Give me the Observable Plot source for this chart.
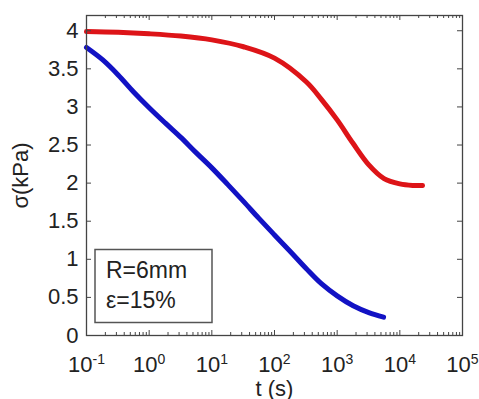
<!DOCTYPE html>
<html>
<head>
<meta charset="utf-8">
<script src="https://cdn.jsdelivr.net/npm/d3@7"></script>
<script src="https://cdn.jsdelivr.net/npm/@observablehq/plot@0.6"></script>
<style>
  html, body { margin: 0; padding: 0; background: #fff; }
</style>
</head>
<body>
<div id="chart"></div>
<script>
// Red curve (upper)
const tRed = [0.1, 0.32, 1, 3.2, 10, 32, 100, 320, 560, 1000, 1800, 3200, 5600, 10000, 16000, 23000];
const sRed = [3.99, 3.98, 3.96, 3.93, 3.88, 3.79, 3.64, 3.33, 3.10, 2.83, 2.52, 2.24, 2.06, 1.99, 1.97, 1.97];
// Blue curve (lower)
const tBlue = [0.1, 0.18, 0.32, 0.56, 1, 1.8, 3.2, 5.6, 10, 18, 32, 56, 100, 180, 320, 560, 1000, 1800, 3200, 5500];
const sBlue = [3.78, 3.62, 3.42, 3.20, 2.99, 2.79, 2.60, 2.40, 2.20, 1.98, 1.76, 1.54, 1.32, 1.10, 0.88, 0.68, 0.52, 0.39, 0.30, 0.24];
// Ticks
const xTicks = [0.1, 1, 10, 100, 1000, 10000, 100000];
const xExponents = ["-1", "0", "1", "2", "3", "4", "5"];
const yTicks = [0, 0.5, 1, 1.5, 2, 2.5, 3, 3.5, 4];
const xMinor = [];
for (const base of [0.1, 1, 10, 100, 1000, 10000]) for (let m = 2; m <= 9; m++) xMinor.push(base * m);
// Annotation
const boxLines = ["R=6mm", "ε=15%"];

const red = tRed.map((t, i) => ({t, s: sRed[i]}));
const blue = tBlue.map((t, i) => ({t, s: sBlue[i]}));

const W = 479, H = 399, mL = 86, mR = 17, mT = 15, mB = 64;
const pw = W - mL - mR, ph = H - mT - mB;

const chart = Plot.plot({
  width: W, height: H,
  marginLeft: mL, marginRight: mR, marginTop: mT, marginBottom: mB,
  style: {fontFamily: "'Liberation Sans', Arial, sans-serif", fontSize: "22px", color: "#222", background: "#fff"},
  x: {type: "log", domain: [0.1, 1e5]},
  y: {domain: [0, 4.2]},
  marks: [
    Plot.line(red, {x: "t", y: "s", stroke: "#dd1418", strokeWidth: 5, curve: "catmull-rom"}),
    Plot.line(blue, {x: "t", y: "s", stroke: "#1212c4", strokeWidth: 5, curve: "catmull-rom"}),
    // inward ticks
    Plot.ruleX(xTicks, {insetTop: ph - 5, stroke: "#444"}),
    Plot.ruleX(xTicks, {insetBottom: ph - 5, stroke: "#444"}),
    Plot.ruleX(xMinor, {insetTop: ph - 3, stroke: "#444"}),
    Plot.ruleX(xMinor, {insetBottom: ph - 3, stroke: "#444"}),
    Plot.ruleY(yTicks, {insetRight: pw - 5, stroke: "#444"}),
    Plot.ruleY(yTicks, {insetLeft: pw - 5, stroke: "#444"}),
    Plot.frame({stroke: "#444", strokeWidth: 1.3}),
    Plot.axisX(xTicks, {tickSize: 0, tickPadding: 21, tickFormat: d => "10^" + xExponents[xTicks.indexOf(d)],
      label: "t (s)", labelAnchor: "center", labelOffset: 60, labelArrow: "none"}),
    Plot.axisY(yTicks, {tickSize: 0, tickPadding: 8, tickFormat: d => String(d),
      label: "σ(kPa)", labelAnchor: "center", labelOffset: 74, labelArrow: "none"})
  ]
});

// superscript exponents on x tick labels
d3.select(chart).selectAll('g[aria-label="x-axis tick label"] text').each(function() {
  const txt = this.textContent;
  if (!txt.includes("^")) return;
  const [b, e] = txt.split("^");
  const sel = d3.select(this);
  sel.text(null);
  sel.append("tspan").text(b);
  sel.append("tspan").attr("dy", "-0.55em").attr("font-size", "14px").text(e);
});

// annotation box
const svg = d3.select(chart);
const g = svg.append("g").attr("font-family", "'Liberation Sans', Arial, sans-serif")
  .attr("font-size", "23px").attr("fill", "#222").attr("text-anchor", "start");
g.append("rect").attr("x", 95).attr("y", 249.5).attr("width", 117).attr("height", 73)
  .attr("fill", "#fff").attr("stroke", "#555").attr("stroke-width", 1.5);
g.selectAll("text.box").data(boxLines).join("text").attr("class", "box")
  .attr("text-anchor", "start")
  .attr("x", 106).attr("y", (d, i) => 278 + i * 30).text(d => d);

document.getElementById("chart").appendChild(chart);
</script>
</body>
</html>
